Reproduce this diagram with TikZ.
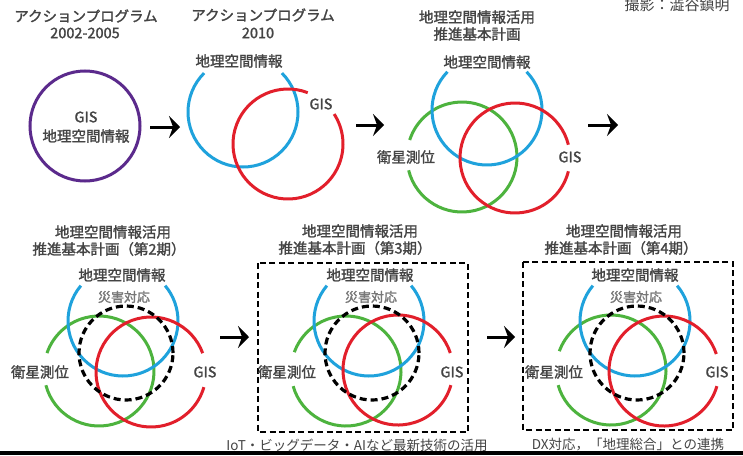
\documentclass[tikz,border=0pt]{standalone}
\usepackage{fontspec}
\setmainfont{Noto Sans CJK JP}
\newfontfamily\jpmed[FakeBold=1.6]{Noto Sans CJK JP}
\usetikzlibrary{arrows.meta}
\definecolor{cblue}{HTML}{1FA2DC}
\definecolor{cred}{HTML}{E21F2B}
\definecolor{cgreen}{HTML}{4DB33E}
\definecolor{cpurple}{HTML}{5B2A8C}
\definecolor{ctext}{HTML}{444444}
\definecolor{csub}{HTML}{777777}
\tikzset{
  ttl/.style={inner sep=0pt, text=ctext, font=\jpmed\fontsize{14.5}{16}\selectfont},
  lbl/.style={inner sep=0pt, text=ctext, font=\jpmed\fontsize{14.5}{16}\selectfont},
  sublbl/.style={inner sep=0pt, text=csub, font=\jpmed\fontsize{13}{15}\selectfont},
  captxt/.style={inner sep=0pt, text=ctext, font=\fontsize{13.5}{15}\selectfont},
  ring/.style={line width=3pt},
  dring/.style={line width=3.2pt, black, dash pattern=on 7pt off 4pt},
  dbox/.style={line width=2.8pt, black, dash pattern=on 6pt off 3.5pt},
  parrow/.style={line width=3pt, black, -{Stealth[length=11pt,width=22pt,inset=4pt]}},
}
\begin{document}
\begin{tikzpicture}[x=1pt,y=1pt]
\useasboundingbox (0,0) rectangle (743,-455);
\fill[white] (0,0) rectangle (743,-455);

% credit
\node[inner sep=0pt, text=ctext, font=\fontsize{15}{16}\selectfont] (credit) at (677,-4.5) {撮影：澁谷鎮明};

% ---------- Panel 1 ----------
\node[ttl] (t1a) at (86,-16) {アクションプログラム};
\node[ttl] (t1b) at (85,-33) {2002-2005};
\coordinate (p1) at (85,-126);
\draw[ring, cpurple] (p1) circle[radius=55];
\node[lbl] (g1) at (86,-117) {GIS};
\node[lbl] (l1) at (86,-136) {地理空間情報};

\coordinate (a1s) at (150,-127);
\coordinate (a1e) at (180,-127);
\draw[parrow] (a1s) -- (a1e);

% ---------- Panel 2 ----------
\node[ttl] (t2a) at (263,-15) {アクションプログラム};
\node[ttl] (t2b) at (258,-33) {2010};
\node[lbl] (l2) at (239,-61) {地理空間情報};
\coordinate (b2) at (243,-112);
\coordinate (r2) at (288,-144);
\draw[ring, cblue] (b2) ++(135:55) arc[start angle=135, end angle=405, radius=55];
\draw[ring, cred] (r2) ++(69:55) arc[start angle=69, end angle=393, radius=55];
\node[lbl] (g2) at (321,-104) {GIS};

\coordinate (a2s) at (356,-125);
\coordinate (a2e) at (384,-125);
\draw[parrow] (a2s) -- (a2e);

% ---------- Panel 3 ----------
\node[ttl] (t3a) at (477,-17) {地理空間情報活用};
\node[ttl] (t3b) at (477,-34) {推進基本計画};
\node[lbl] (l3) at (487,-62) {地理空間情報};
\coordinate (b3) at (487,-110);
\coordinate (gr3) at (462,-157);
\coordinate (r3) at (515,-158);
\draw[ring, cgreen] (gr3) ++(194:55) arc[start angle=194, end angle=522, radius=55];
\draw[ring, cblue] (b3) ++(136:55) arc[start angle=136, end angle=404, radius=55];
\draw[ring, cred] (r3) ++(14:55) arc[start angle=14, end angle=346, radius=55];
\node[lbl] (s3) at (406,-157) {衛星測位};
\node[lbl] (g3) at (570,-157) {GIS};

\coordinate (a3s) at (588,-125);
\coordinate (a3e) at (618,-125);
\draw[parrow] (a3s) -- (a3e);

% ---------- Panel 4 ----------
\node[ttl] (t4a) at (113,-232) {地理空間情報活用};
\node[ttl] (t4b) at (109,-249) {推進基本計画（第2期）};
\node[lbl] (l4) at (122,-275) {地理空間情報};
\node[sublbl] (d4) at (124,-297) {災害対応};
\coordinate (b4) at (123,-321);
\coordinate (gr4) at (99,-371);
\coordinate (r4) at (151,-372);
\coordinate (k4) at (126,-353);
\draw[ring, cgreen] (gr4) ++(195:55) arc[start angle=195, end angle=521, radius=55];
\draw[ring, cblue] (b4) ++(140:55) arc[start angle=140, end angle=400, radius=55];
\draw[ring, cred] (r4) ++(20:55) arc[start angle=20, end angle=344, radius=55];
\draw[dring] (k4) circle[radius=47];
\node[lbl] (s4) at (40,-372) {衛星測位};
\node[lbl] (g4) at (205,-372) {GIS};

\coordinate (a4s) at (220,-337);
\coordinate (a4e) at (249,-337);
\draw[parrow] (a4s) -- (a4e);

% ---------- Panel 5 ----------
\node[ttl] (t5a) at (360,-231) {地理空間情報活用};
\node[ttl] (t5b) at (355,-248) {推進基本計画（第3期）};
\coordinate (x5a) at (258,-263);
\coordinate (x5b) at (468,-432);
\draw[dbox] (x5a) rectangle (x5b);
\node[lbl] (l5) at (370,-275) {地理空間情報};
\node[sublbl] (d5) at (371,-297) {災害対応};
\coordinate (b5) at (369,-321);
\coordinate (gr5) at (346,-371);
\coordinate (r5) at (398,-370);
\coordinate (k5) at (372,-353);
\draw[ring, cgreen] (gr5) ++(196:55) arc[start angle=196, end angle=520, radius=55];
\draw[ring, cblue] (b5) ++(140:55) arc[start angle=140, end angle=400, radius=55];
\draw[ring, cred] (r5) ++(18:55) arc[start angle=18, end angle=344, radius=55];
\draw[dring] (k5) circle[radius=47];
\node[lbl] (s5) at (287,-372) {衛星測位};
\node[lbl] (g5) at (452,-372) {GIS};
\node[captxt] (c5) at (357,-445) {IoT・ビッグデータ・AIなど最新技術の活用};

\coordinate (a5s) at (487,-337);
\coordinate (a5e) at (515,-337);
\draw[parrow] (a5s) -- (a5e);

% ---------- Panel 6 ----------
\node[ttl] (t6a) at (624,-231) {地理空間情報活用};
\node[ttl] (t6b) at (621,-248) {推進基本計画（第4期）};
\coordinate (x6a) at (523,-262);
\coordinate (x6b) at (733,-430);
\draw[dbox] (x6a) rectangle (x6b);
\node[lbl] (l6) at (635,-275) {地理空間情報};
\node[sublbl] (d6) at (636,-297) {災害対応};
\coordinate (b6) at (635,-321);
\coordinate (gr6) at (611,-370);
\coordinate (r6) at (664,-371);
\coordinate (k6) at (637,-353);
\draw[ring, cgreen] (gr6) ++(196:55) arc[start angle=196, end angle=520, radius=55];
\draw[ring, cblue] (b6) ++(140:55) arc[start angle=140, end angle=400, radius=55];
\draw[ring, cred] (r6) ++(18:55) arc[start angle=18, end angle=344, radius=55];
\draw[dring] (k6) circle[radius=47];
\node[lbl] (s6) at (554,-372) {衛星測位};
\node[lbl] (g6) at (717,-372) {GIS};
\node[captxt] (c6) at (628,-445) {DX対応，「地理総合」との連携};

% bottom bar
\fill[black] (0,-451) rectangle (743,-455);
\end{tikzpicture}
\end{document}
